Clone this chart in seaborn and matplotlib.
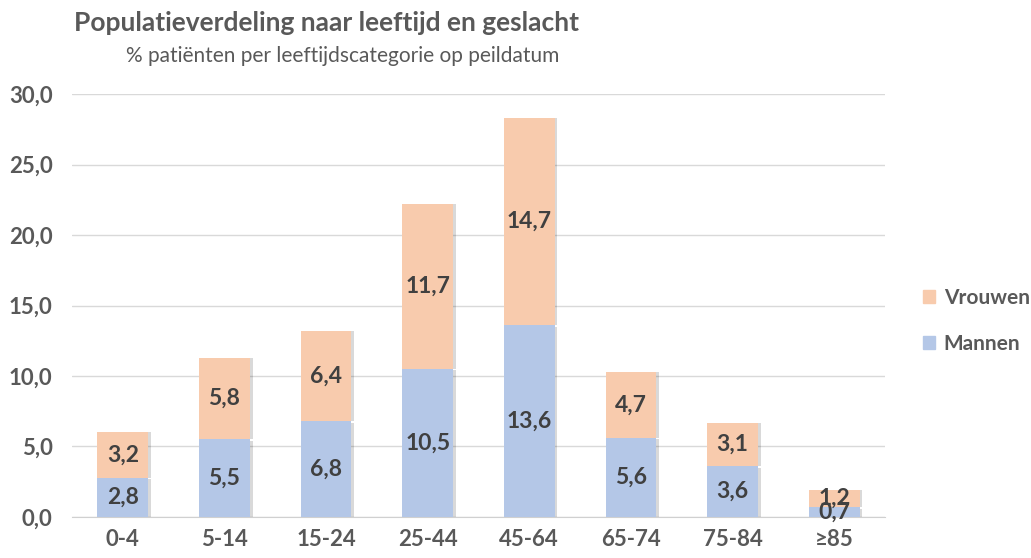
import matplotlib.pyplot as plt
import matplotlib.patheffects as pe
import seaborn as sns
from matplotlib.patches import Patch

categories = ["0-4", "5-14", "15-24", "25-44", "45-64", "65-74", "75-84", "≥85"]
mannen = [2.8, 5.5, 6.8, 10.5, 13.6, 5.6, 3.6, 0.7]
vrouwen = [3.2, 5.8, 6.4, 11.7, 14.7, 4.7, 3.1, 1.2]

c_man = "#B4C7E7"
c_vrouw = "#F8CBAD"
dark = "#404040"
grey = "#595959"

sns.set_style("white")
plt.rcParams["font.family"] = ["Lato", "DejaVu Sans"]

fig = plt.figure(figsize=(10.31, 5.58), dpi=100)
ax = fig.add_axes([0.0698, 0.0735, 0.7886, 0.758])

sns.barplot(x=categories, y=mannen, color=c_man, saturation=1, width=0.5, ax=ax,
            errorbar=None, linewidth=0, zorder=3)
n = len(ax.patches)
sns.barplot(x=categories, y=vrouwen, bottom=mannen, color=c_vrouw, saturation=1,
            width=0.5, ax=ax, errorbar=None, linewidth=0, zorder=3)

# soft shadow like the original (sideways only on the top segment)
for k, p in enumerate(ax.patches):
    off = (2, -1) if k < n else (2, 0)
    p.set_path_effects([pe.SimplePatchShadow(offset=off, shadow_rgbFace="#000000",
                                             alpha=0.15), pe.Normal()])

# value labels centered in each segment
for i, (m, v) in enumerate(zip(mannen, vrouwen)):
    ax.text(i, m / 2, f"{m:.1f}".replace(".", ","), ha="center", va="center",
            fontsize=16.5, fontweight="bold", color=dark, zorder=5)
    ax.text(i, m + v / 2, f"{v:.1f}".replace(".", ","), ha="center", va="center",
            fontsize=16.5, fontweight="bold", color=dark, zorder=5)

ax.set_ylim(0, 30)
ax.set_xlim(-0.5, len(categories) - 0.5)
ax.set_yticks(range(0, 31, 5))
ax.set_yticklabels([f"{t:.1f}".replace(".", ",") for t in range(0, 31, 5)])
ax.yaxis.grid(True, color="#D9D9D9", linewidth=1)
ax.set_axisbelow(True)
for s in ["top", "right", "left"]:
    ax.spines[s].set_visible(False)
ax.spines["bottom"].set_color("#D0D0D0")
ax.tick_params(axis="both", length=0, labelsize=16, labelcolor=grey)
for lab in ax.get_xticklabels() + ax.get_yticklabels():
    lab.set_fontweight("bold")
ax.tick_params(axis="x", pad=9)
ax.tick_params(axis="y", pad=14)

fig.text(0.072, 0.958, "Populatieverdeling naar leeftijd en geslacht", fontsize=19,
         fontweight="bold", color=grey, va="center")
fig.text(0.122, 0.900, "% patiënten per leeftijdscategorie op peildatum", fontsize=15,
         color=grey, va="center")

handles = [Patch(color=c_vrouw, label="Vrouwen"), Patch(color=c_man, label="Mannen")]
leg = fig.legend(handles=handles, loc="center left", bbox_to_anchor=(0.877, 0.425),
                 frameon=False, handlelength=0.6, handleheight=0.6, labelspacing=1.25,
                 handletextpad=0.4, prop={"weight": "bold", "size": 15})
for t in leg.get_texts():
    t.set_color(grey)

fig.savefig("out.png", dpi=100)
